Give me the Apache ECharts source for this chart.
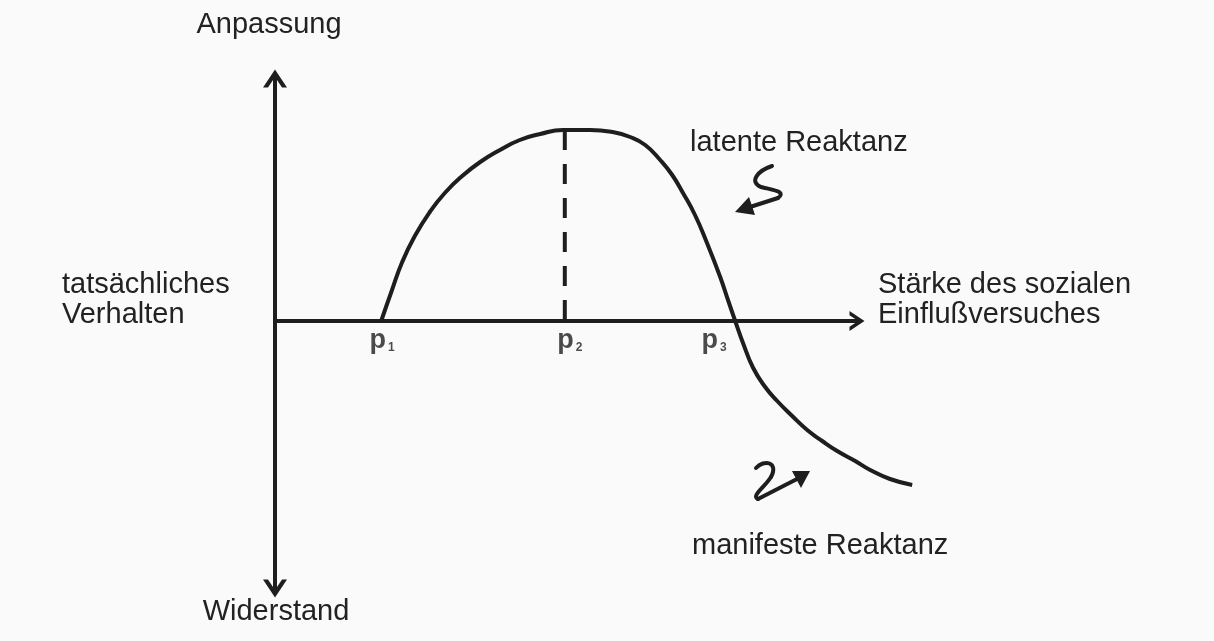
<!DOCTYPE html>
<html>
<head>
<meta charset="utf-8">
<title>Reaktanz</title>
<script src="https://cdn.jsdelivr.net/npm/echarts@6/dist/echarts.min.js"></script>
<style>
  html, body { margin: 0; padding: 0; background: #fafafa; }
  #main { width: 1214px; height: 641px; }
</style>
</head>
<body>
<div id="main"></div>
<script>
// curve: Stärke des Einflusses (x) gegen Anpassung (+) / Widerstand (-)
var curveX = [17.7, 19.5, 21.2, 23.3, 25.8, 28.3, 31.2, 34.2, 37.5, 40.8, 44.2, 48.0, 52.5, 56.2, 59.2, 61.7, 64.2, 66.2, 68.0, 70.0, 72.0, 74.2, 75.5, 76.7, 78.0, 79.7, 81.7, 83.7, 86.2, 88.7, 91.2, 93.7, 96.7, 99.2, 102.5, 106.2];
var curveY = [0, 12.4, 23.6, 34.0, 43.6, 51.2, 58.0, 63.6, 68.4, 72.4, 74.8, 76.4, 76.4, 75.6, 73.6, 70.4, 64.4, 58.4, 51.2, 42.4, 31.2, 17.6, 8.4, 0, -8.8, -18.8, -26.4, -32.0, -38.0, -43.6, -48.0, -52.0, -56.0, -59.6, -63.2, -65.6];

// p1, p2, p3 on the axis
var pNames = ['1', '2', '3'];
var pX = [17.7, 48.3, 76.7];
var pLabelShift = [1, 5, -21];

var peakX = 48.3;
var peakY = 76.4;

var ink = '#1e1e1e';
var font = '"Liberation Sans", Arial, Helvetica, sans-serif';

var chart = echarts.init(document.getElementById('main'));

var curveData = curveX.map(function (x, i) { return [x, curveY[i]]; });
var pData = pX.map(function (x, i) {
  return {
    name: pNames[i],
    value: [x, 0],
    label: { offset: [pLabelShift[i], 0] }
  };
});

// chevron arrow head
var chevron = 'path://M0,18 L12,0 L24,18 L19,18 L12,7.5 L5,18 Z';

function txt(text, x, y, align) {
  return {
    type: 'text',
    x: x,
    y: y,
    style: {
      text: text,
      font: '29px ' + font,
      fill: '#222',
      textAlign: align || 'left',
      textVerticalAlign: 'middle'
    }
  };
}

var stroke = { stroke: ink, lineWidth: 4, fill: null, lineCap: 'round' };

function curve(a, c1, c2, b) {
  return {
    type: 'bezierCurve',
    shape: { x1: a[0], y1: a[1], cpx1: c1[0], cpy1: c1[1], cpx2: c2[0], cpy2: c2[1], x2: b[0], y2: b[1] },
    style: stroke
  };
}
function seg(a, b) {
  return { type: 'line', shape: { x1: a[0], y1: a[1], x2: b[0], y2: b[1] }, style: stroke };
}

var hidden = {
  axisLine: { show: false },
  axisTick: { show: false },
  axisLabel: { show: false },
  splitLine: { show: false }
};

var option = {
  backgroundColor: '#fafafa',
  animation: false,
  grid: [
    // the drawn axes
    { left: 275, top: 78.5, width: 582, height: 510 },
    // same scale, wider, for the curve which runs past the arrow
    { left: 275, top: 78.5, width: 642, height: 510 }
  ],
  xAxis: [
    {
      type: 'value',
      gridIndex: 0,
      min: 0,
      max: 97,
      axisLine: {
        onZero: true,
        lineStyle: { color: ink, width: 4 },
        symbol: ['none', chevron],
        symbolSize: [24, 15]
      },
      axisTick: { show: false },
      axisLabel: { show: false },
      splitLine: { show: false }
    },
    Object.assign({ type: 'value', gridIndex: 1, min: 0, max: 107 }, hidden)
  ],
  yAxis: [
    {
      type: 'value',
      gridIndex: 0,
      min: -107,
      max: 97,
      axisLine: {
        show: true,
        onZero: true,
        lineStyle: { color: ink, width: 4 },
        symbol: [chevron, chevron],
        symbolSize: [24, 18]
      },
      axisTick: { show: false },
      axisLabel: { show: false },
      splitLine: { show: false }
    },
    Object.assign({ type: 'value', gridIndex: 1, min: -107, max: 97 }, hidden)
  ],
  series: [
    {
      name: 'Reaktion',
      type: 'line',
      xAxisIndex: 1,
      yAxisIndex: 1,
      data: curveData,
      smooth: 0.5,
      showSymbol: false,
      lineStyle: { color: ink, width: 4 },
      z: 3
    },
    {
      name: 'p2',
      type: 'line',
      xAxisIndex: 1,
      yAxisIndex: 1,
      data: [[peakX, peakY], [peakX, 0]],
      showSymbol: false,
      lineStyle: { color: ink, width: 4, type: [20, 14] },
      z: 2
    },
    {
      name: 'Punkte',
      type: 'scatter',
      xAxisIndex: 1,
      yAxisIndex: 1,
      data: pData,
      symbolSize: 0,
      label: {
        show: true,
        position: 'bottom',
        distance: 5,
        formatter: function (p) { return '{p|p}{s|' + p.name + '}'; },
        rich: {
          p: { fontSize: 27, fontWeight: 'bold', fontFamily: font, color: ink, verticalAlign: 'bottom', lineHeight: 28 },
          s: { fontSize: 12, fontWeight: 'bold', fontFamily: font, color: ink, verticalAlign: 'bottom', lineHeight: 28, padding: [0, 0, 0, 2] }
        }
      }
    }
  ],
  graphic: [
    txt('Anpassung', 269, 25, 'center'),
    txt('Widerstand', 276, 612, 'center'),
    txt('tatsächliches', 62, 285),
    txt('Verhalten', 62, 315),
    txt('Stärke des sozialen', 878, 285),
    txt('Einflußversuches', 878, 315),
    txt('latente Reaktanz', 690, 143),
    txt('manifeste Reaktanz', 692, 546),
    // latente Reaktanz squiggle
    curve([772, 166], [757, 171], [749, 182], [761, 187]),
    curve([761, 187], [772, 190], [787, 191], [778, 198]),
    seg([778, 198], [750, 207]),
    {
      type: 'polygon',
      shape: { points: [[735, 212], [749, 197], [755, 215]] },
      style: { fill: ink }
    },
    // manifeste Reaktanz squiggle
    curve([756, 468], [764, 459], [779, 462], [771, 477]),
    curve([771, 477], [764, 488], [751, 496], [758, 499]),
    seg([758, 499], [797, 479]),
    {
      type: 'polygon',
      shape: { points: [[810, 471], [792, 471], [801, 488]] },
      style: { fill: ink }
    }
  ]
};

chart.setOption(option);
</script>
</body>
</html>
